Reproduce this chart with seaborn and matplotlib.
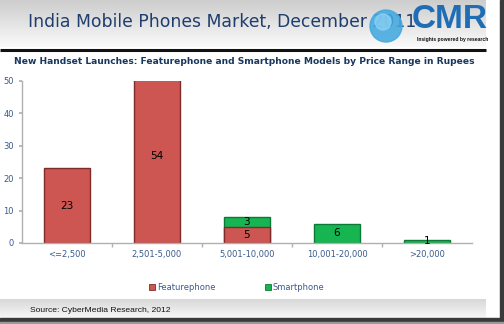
import numpy as np
import pandas as pd
import matplotlib
matplotlib.use("Agg")
import matplotlib.pyplot as plt
import matplotlib.patches as mpatches
from matplotlib.patches import Circle, Rectangle
import seaborn as sns

# ---- data ----
categories = ["<=2,500", "2,501-5,000", "5,001-10,000", "10,001-20,000", ">20,000"]
featurephone = [23, 54, 5, 0, 0]
smartphone = [0, 0, 3, 6, 1]
series_names = ["Featurephone", "Smartphone"]
y_ticks = [0, 10, 20, 30, 40, 50]

title = "India Mobile Phones Market, December 2011"
subtitle = "New Handset Launches: Featurephone and Smartphone Models by Price Range in Rupees"
source = "Source: CyberMedia Research, 2012"

RED = "#CD5652"
RED_EDGE = "#7E2C2A"
GREEN = "#16B552"
GREEN_EDGE = "#0C7A36"
TICKC = "#3A5A8C"

sns.set_theme(style="white")
plt.rcParams["font.family"] = ["DejaVu Sans"]

W, H = 504, 324
fig = plt.figure(figsize=(W / 100, H / 100), dpi=100)
fig.patch.set_facecolor("white")

# background / decoration axes in pixel coordinates
bg = fig.add_axes([0, 0, 1, 1], zorder=0)
bg.set_xlim(0, W)
bg.set_ylim(H, 0)
bg.axis("off")

# header gradient
grad = np.linspace(0, 1, 100).reshape(-1, 1)
hdr_cmap = matplotlib.colors.LinearSegmentedColormap.from_list("hdr", ["#CDCDCD", "#FAFAFA"])
bg.imshow(grad, extent=(0, 486, 47, 0), cmap=hdr_cmap, aspect="auto", zorder=1)
bg.plot([0, 486], [49.5, 49.5], color="#111111", lw=2.2, zorder=2, solid_capstyle="butt")

# footer gradient
ftr_cmap = matplotlib.colors.LinearSegmentedColormap.from_list("ftr", ["#D8D8D8", "#F7F7F7"])
bg.imshow(grad, extent=(0, 486, 318, 299), cmap=ftr_cmap, aspect="auto", zorder=1)

# slide shadow (right and bottom)
bg.add_patch(Rectangle((500, 0), 4, 321, color="#3A3A3A", zorder=3))
bg.add_patch(Rectangle((0, 318), 504, 3.5, color="#3A3A3A", zorder=3))
bg.add_patch(Rectangle((0, 321.5), 504, 3, color="#9A9A9A", zorder=3))

# title
bg.text(28, 22, title, fontsize=12.4, color="#1F3E6E", va="center", ha="left", zorder=4)

# logo
bg.add_patch(Circle((386, 26), 16, color="#43A9E0", alpha=0.88, zorder=5))
bg.add_patch(Circle((383, 22), 8, color="#8FD3F5", alpha=0.7, zorder=5))
bg.text(488, 19, "CMR", fontsize=24, fontweight="bold", color="#1E6DB5",
        family="Liberation Sans", ha="right", va="center", zorder=6)
bg.text(488, 40, "Insights powered by research", fontsize=3.6, fontweight="bold",
        color="#111111", family="Liberation Sans", ha="right", va="center", zorder=6)

# subtitle
bg.text(14, 61, subtitle, fontsize=6.6, fontweight="bold", color="#17375E",
        va="center", ha="left", zorder=4)

# source
bg.text(30, 311, source, fontsize=6.1, color="#111111", family="Liberation Sans",
        va="center", ha="left", zorder=4)

# ---- main chart ----
ax = fig.add_axes([22 / W, (H - 243) / H, 450 / W, 162 / H], zorder=2)
ax.set_facecolor("none")

total = [f + s for f, s in zip(featurephone, smartphone)]
df_total = pd.DataFrame({"cat": categories, "val": total, "s": smartphone})
df_total = df_total[df_total["s"] > 0]
df_feat = pd.DataFrame({"cat": categories, "val": featurephone})
df_feat = df_feat[df_feat["val"] > 0]

sns.barplot(data=df_total, x="cat", y="val", order=categories, color=GREEN,
            saturation=1, width=0.52, edgecolor=GREEN_EDGE, linewidth=1.0, ax=ax)
sns.barplot(data=df_feat, x="cat", y="val", order=categories, color=RED,
            saturation=1, width=0.52, edgecolor=RED_EDGE, linewidth=1.0, ax=ax)

for i, (f, s) in enumerate(zip(featurephone, smartphone)):
    if f > 0:
        ax.text(i, f / 2, str(f), ha="center", va="center", fontsize=7.6, color="black")
    if s > 0:
        ax.text(i, f + s / 2, str(s), ha="center", va="center", fontsize=7.6, color="black")

ax.set_ylim(0, 50)
ax.set_xlim(-0.5, len(categories) - 0.5)
ax.set_yticks(y_ticks)
ax.set_xlabel("")
ax.set_ylabel("")
for sp in ["top", "right"]:
    ax.spines[sp].set_visible(False)
for sp in ["left", "bottom"]:
    ax.spines[sp].set_color("#B0B0B0")
    ax.spines[sp].set_linewidth(1.0)
ax.tick_params(axis="y", labelsize=6, labelcolor=TICKC, length=2, color="#B0B0B0", pad=4, left=True)
ax.tick_params(axis="x", labelsize=6, labelcolor=TICKC, length=0, pad=5)
ax.set_xticks(np.arange(len(categories) - 1) + 0.5, minor=True)
ax.tick_params(axis="x", which="minor", length=3, color="#B0B0B0", bottom=True)
ax.grid(False)

# legend
handles = [mpatches.Patch(facecolor=RED, edgecolor=RED_EDGE, lw=0.6),
           mpatches.Patch(facecolor=GREEN, edgecolor=GREEN_EDGE, lw=0.6)]
leg = ax.legend(handles, series_names, ncol=2, loc="center",
                bbox_to_anchor=(237 / W, (H - 287) / H), bbox_transform=fig.transFigure,
                frameon=False, fontsize=6, handlelength=0.7, handleheight=0.7,
                handletextpad=0.2, columnspacing=6.0)
for t in leg.get_texts():
    t.set_color(TICKC)

fig.savefig("out.png", dpi=100)
